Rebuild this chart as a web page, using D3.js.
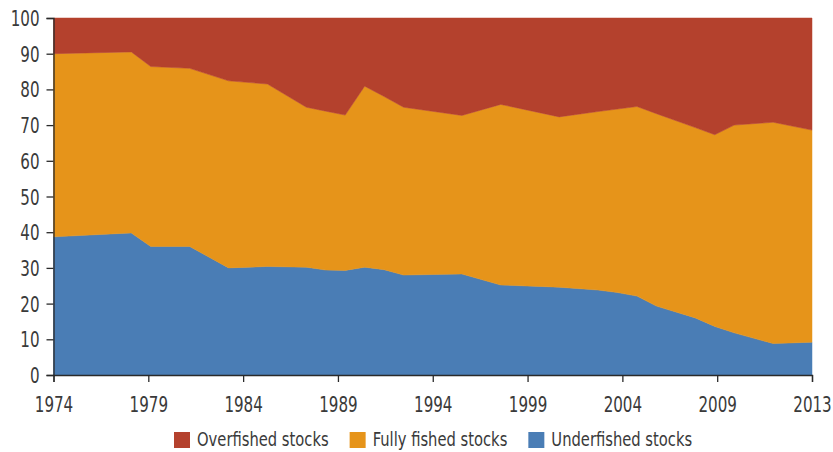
<!DOCTYPE html>
<html>
<head>
  <meta charset="utf-8">
  <script src="https://d3js.org/d3.v7.min.js"></script>
  <style>
  body {
    margin: 0;
    background: #fff;
  }
  .axis text, .legend text {
    font-family: "DejaVu Sans Condensed", "DejaVu Sans", sans-serif;
    font-size: 21px;
    fill: #3a3a3a;
  }
  .legend text {
    font-size: 20px;
  }
  .axis path, .axis line {
    stroke: #2a2a2a;
    stroke-width: 1.3px;
  }
</style>
</head>
<body>
<script>

  var years = [1974, 1978, 1979, 1981, 1983, 1985, 1987, 1988, 1989, 1990, 1991, 1992,
               1995, 1997, 2000, 2002, 2003, 2004, 2005, 2007, 2008, 2009, 2011, 2013];
  var underfished = [38.7, 39.8, 36.0, 36.0, 30.0, 30.4, 30.2, 29.4, 29.3, 30.2, 29.5, 28.0,
                     28.3, 25.2, 24.6, 23.8, 23.1, 22.1, 19.3, 16.0, 13.6, 11.8, 8.8, 9.2];
  var fullyFished = [51.3, 50.7, 50.4, 49.9, 52.4, 51.1, 44.8, 44.5, 43.5, 50.7, 48.5, 47.0,
                     44.4, 50.6, 47.7, 50.0, 51.4, 53.1, 53.9, 53.3, 53.7, 58.2, 62.0, 59.4];
  var overfished = [10.0, 9.5, 13.6, 14.1, 17.6, 18.5, 25.0, 26.1, 27.2, 19.1, 22.0, 25.0,
                    27.3, 24.2, 27.7, 26.2, 25.5, 24.8, 26.8, 30.7, 32.7, 30.0, 29.2, 31.4];

  var seriesNames = ["Overfished stocks", "Fully fished stocks", "Underfished stocks"];
  var seriesColors = ["#b4412d", "#e6941a", "#4a7db5"];
  var yTicks = [0, 10, 20, 30, 40, 50, 60, 70, 80, 90, 100];
  var xTickLabels = ["1974", "1979", "1984", "1989", "1994", "1999", "2004", "2009", "2013"];

  // the label face is a narrow one; squeeze the condensed font to match
  var squeeze = 0.8,
    legendSqueeze = 0.82;

  var margin = {top: 18, right: 21, bottom: 77, left: 53.5},
    width = 833 - margin.left - margin.right,
    height = 452 - margin.top - margin.bottom;

  var svg = d3.select("body").append("svg")
    .attr("width", 833)
    .attr("height", 452)
  .append("g")
    .attr("transform", "translate(" + margin.left + "," + margin.top + ")");

  var x = d3.scaleLinear().domain([1974, 2013]).range([0, width]);
  var y = d3.scaleLinear().domain([0, 100]).range([height, 0]);

  var rows = years.map((yr, i) => {
    return {year: yr, under: underfished[i], fully: fullyFished[i], over: overfished[i]};
  });

  var keys = ["under", "fully", "over"];
  var colorByKey = {over: seriesColors[0], fully: seriesColors[1], under: seriesColors[2]};

  var layers = d3.stack().keys(keys)(rows);

  var area = d3.area()
    .x(d => x(d.data.year))
    .y0(d => y(d[0]))
    .y1(d => y(d[1]));

  svg.selectAll(".layer")
    .data(layers)
    .enter().append("path")
    .attr("class", "layer")
    .attr("fill", d => colorByKey[d.key])
    .attr("stroke", d => colorByKey[d.key])
    .attr("stroke-width", 0.5)
    .attr("d", area);

  // 8 equal intervals over the span, labelled from the list
  var xTickPos = xTickLabels.map((l, i) => 1974 + i * (2013 - 1974) / (xTickLabels.length - 1));

  var xAxis = d3.axisBottom(x)
    .tickValues(xTickPos)
    .tickFormat((d, i) => xTickLabels[i])
    .tickSizeOuter(0)
    .tickSize(7);

  var yAxis = d3.axisLeft(y)
    .tickValues(yTicks)
    .tickSizeOuter(0)
    .tickSize(7);

  var gx = svg.append("g")
    .attr("class", "x axis")
    .attr("transform", "translate(0," + height + ")")
    .call(xAxis);

  gx.selectAll("text")
    .attr("y", 0)
    .attr("dy", 0)
    .attr("transform", "translate(0,37) scale(" + squeeze + ",1)");

  var gy = svg.append("g")
    .attr("class", "y axis")
    .call(yAxis);

  gy.selectAll("text")
    .attr("x", 0)
    .attr("dy", "0.36em")
    .attr("transform", "translate(-14,0) scale(" + squeeze + ",1)");

  // legend under the plot
  var legend = d3.select("svg").append("g").attr("class", "legend");
  var items = legend.selectAll("g")
    .data(seriesNames)
    .enter().append("g");

  items.append("rect")
    .attr("width", 16)
    .attr("height", 16)
    .attr("y", 432)
    .attr("fill", (d, i) => seriesColors[i]);

  items.append("text")
    .attr("transform", "translate(23,446) scale(" + legendSqueeze + ",1)")
    .text(d => d);

  var pos = 174;
  items.each(function() {
    var g = d3.select(this);
    g.attr("transform", "translate(" + pos + ",0)");
    pos += 23 + g.select("text").node().getComputedTextLength() * legendSqueeze + 21;
  });

</script>
</body>
</html>
